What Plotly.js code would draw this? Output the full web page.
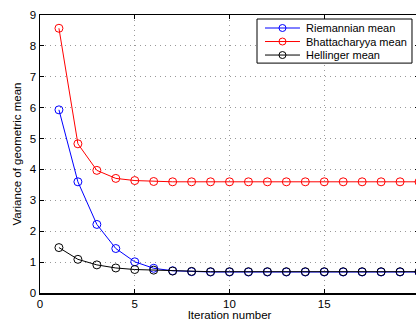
<!DOCTYPE html>
<html><head><meta charset="utf-8">
<script src="https://cdn.plot.ly/plotly-3.0.1.min.js"></script>
<style>html,body{margin:0;padding:0;overflow:hidden;background:#fff}#chart{width:420px;height:321px}</style>
</head><body><div id="chart"></div>
<script>
const iterations = [1,2,3,4,5,6,7,8,9,10,11,12,13,14,15,16,17,18,19,20];
const riemannian = [5.93,3.60,2.22,1.44,1.01,0.80,0.72,0.69,0.68,0.68,0.68,0.68,0.68,0.68,0.68,0.68,0.68,0.68,0.68,0.68];
const bhattacharyya = [8.57,4.83,3.97,3.71,3.64,3.61,3.60,3.60,3.60,3.60,3.60,3.60,3.60,3.60,3.60,3.60,3.60,3.60,3.60,3.60];
const hellinger = [1.47,1.09,0.91,0.81,0.76,0.74,0.71,0.70,0.69,0.69,0.69,0.69,0.69,0.69,0.69,0.69,0.69,0.69,0.69,0.69];
const seriesNames = ['Riemannian mean','Bhattacharyya mean','Hellinger mean'];
const colors = ['#0000ff','#ff0000','#000000'];
const xTicks = [0,5,10,15,20];
const yTicks = [0,1,2,3,4,5,6,7,8,9];

const FONT = 'Liberation Sans, Arial, sans-serif';
const data = [riemannian, bhattacharyya, hellinger].map((ys,i)=>({
  x: iterations, y: ys, name: seriesNames[i], type:'scatter', mode:'lines+markers',
  line:{color:colors[i], width:1},
  marker:{symbol:'circle-open', size:8, color:colors[i], line:{width:1, color:colors[i]}},
  showlegend:false, cliponaxis:true
}));

// Manual legend (MATLAB-style compact box), in paper coordinates
const shapes = [{type:'rect', xref:'paper', yref:'paper', x0:0.5726, x1:0.9815, y0:0.827, y1:0.9856,
  line:{color:'#000', width:1}, fillcolor:'#fff', layer:'above'}];
const annotations = [];
const rowY = [0.9532, 0.9046, 0.856];
seriesNames.forEach((nm,i)=>{
  shapes.push({type:'line', xref:'paper', yref:'paper', x0:0.5937, x1:0.686, y0:rowY[i], y1:rowY[i],
    line:{color:colors[i], width:1}, layer:'above'});
  shapes.push({type:'circle', xref:'paper', yref:'paper', xsizemode:'pixel', ysizemode:'pixel',
    xanchor:0.6398, yanchor:rowY[i], x0:-3.5, x1:3.5, y0:-3.5, y1:3.5,
    line:{color:colors[i], width:1}, fillcolor:'rgba(0,0,0,0)', layer:'above'});
  annotations.push({xref:'paper', yref:'paper', x:0.6966, y:rowY[i], xanchor:'left', yanchor:'middle',
    text:nm, showarrow:false, font:{family:FONT, size:11, color:'#000'}});
});

const axisCommon = {
  showline:true, linecolor:'#000', linewidth:1.5, mirror:'ticks',
  ticks:'inside', ticklen:4, tickcolor:'#000',
  showgrid:true, gridcolor:'#999', griddash:'1px,4px', gridwidth:1,
  zeroline:false, tickfont:{family:FONT, size:11.5, color:'#000'}
};
const layout = {
  width:420, height:321,
  margin:{l:40, r:1, t:15, b:28},
  paper_bgcolor:'#fff', plot_bgcolor:'#fff',
  showlegend:false,
  shapes: shapes, annotations: annotations,
  xaxis: Object.assign({}, axisCommon, {range:[0,20], tickvals:xTicks,
    title:{text:'Iteration number', font:{family:FONT, size:11.5, color:'#000'}, standoff:1}}),
  yaxis: Object.assign({}, axisCommon, {range:[0,9], tickvals:yTicks,
    title:{text:'Variance of geometric mean', font:{family:FONT, size:11.5, color:'#000'}, standoff:6}})
};
Plotly.newPlot('chart', data, layout, {displayModeBar:false, staticPlot:true});
</script></body></html>
